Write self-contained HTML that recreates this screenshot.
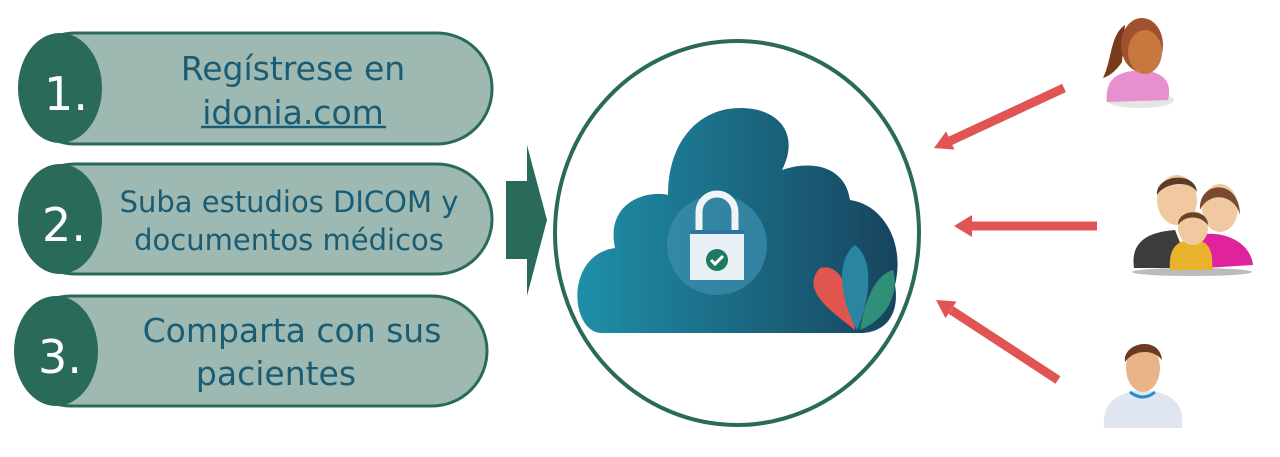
<!DOCTYPE html>
<html><head><meta charset="utf-8"><style>
html,body{margin:0;padding:0;background:#fff;width:1280px;height:457px;overflow:hidden}
svg text{font-family:"DejaVu Sans","Liberation Sans",sans-serif}
</style></head><body>
<svg width="1280" height="457" viewBox="0 0 1280 457" xmlns="http://www.w3.org/2000/svg">
<defs>
<linearGradient id="cg" x1="0" x2="1" y1="0" y2="0"><stop offset="0" stop-color="#1f8fa8"/><stop offset="1" stop-color="#17445e"/></linearGradient>
</defs>
<!-- pills -->
<g stroke="#2a6a5a" stroke-width="3">
<rect x="20" y="33" width="472" height="111" rx="55" fill="#9db9b2"/>
<rect x="20" y="164" width="472" height="110" rx="55" fill="#9db9b2"/>
<rect x="16" y="296" width="471" height="110" rx="55" fill="#9db9b2"/>
</g>
<ellipse cx="60" cy="88" rx="42" ry="55" fill="#2a6a5a"/>
<ellipse cx="60" cy="219" rx="42" ry="55" fill="#2a6a5a"/>
<ellipse cx="56" cy="351" rx="42" ry="55" fill="#2a6a5a"/>
<g fill="#fff" font-size="46" text-anchor="middle">
<text x="66" y="110" transform="scale(1,1)">1.</text><text x="64" y="241">2.</text><text x="60" y="373">3.</text>
</g>
<g fill="#1a5c74" text-anchor="middle">
<text x="293" y="80" font-size="33">Regístrese en</text>
<text x="293" y="124" font-size="33">idonia.com</text>
<line x1="201" y1="127" x2="386" y2="127" stroke="#1a5c74" stroke-width="2.5"/>
<text x="289" y="212" font-size="29">Suba estudios DICOM y</text>
<text x="289" y="250" font-size="29">documentos médicos</text>
<text x="292" y="342" font-size="33">Comparta con sus</text>
<text x="276" y="385" font-size="33">pacientes</text>
</g>
<!-- big arrow -->
<path d="M506,181 H527 V145 L547,220 L527,296 V259 H506Z" fill="#2a6a5a"/>
<!-- ellipse -->
<ellipse cx="737" cy="233" rx="182" ry="192" fill="#fff" stroke="#2a6a5a" stroke-width="4"/>
<!-- cloud -->
<path d="M600,333 C570,330 565,255 615,248 C605,200 650,190 668,195 C668,140 700,108 740,108 C780,108 800,135 782,170 C810,160 845,165 850,200 C885,205 905,245 895,285 C900,315 885,333 860,333Z" fill="url(#cg)"/>
<circle cx="717" cy="245" r="50" fill="#3d8eaf" opacity="0.7"/>
<path d="M699,230 V212 A18,18 0 0 1 735,212 V230" fill="none" stroke="#f0f4f7" stroke-width="7"/>
<rect x="690" y="230" width="54" height="50" fill="#e9f1f6"/>
<rect x="690" y="230" width="54" height="4" fill="#2f74a0"/>
<circle cx="717" cy="260" r="11" fill="#1f7a62"/>
<path d="M711,260 l4,4 l8,-8" fill="none" stroke="#fff" stroke-width="3"/>
<path d="M855,330 C830,310 800,290 820,268 C840,262 852,290 855,330Z" fill="#e0564f"/>
<path d="M857,330 C840,300 835,260 855,245 C875,260 870,300 857,330Z" fill="#2a86a0"/>
<path d="M860,330 C865,300 875,275 893,270 C900,295 885,320 860,330Z" fill="#2f8f78"/>
<!-- red arrows -->
<g stroke="#e05454" stroke-width="9">
<line x1="1064" y1="88" x2="950" y2="141"/>
<line x1="1097" y1="226" x2="972" y2="226"/>
<line x1="1058" y1="380" x2="951" y2="310"/>
</g>
<g fill="#e05454">
<path d="M934,148 L954.5,149.6 L946.1,131.4Z"/>
<path d="M954,226 L972,215 L972,237Z"/>
<path d="M936,300 L956.5,301.5 L945.5,318.3Z"/>
</g>
<!-- girl -->
<g>
<ellipse cx="1140" cy="100" rx="34" ry="8" fill="#ccc" opacity="0.5"/>
<path d="M1107,102 C1105,80 1115,72 1140,70 C1165,72 1172,82 1168,100 Z" fill="#e78fcf"/>
<path d="M1125,25 C1110,35 1112,60 1103,78 C1112,75 1118,68 1122,62 Z" fill="#7a3b1c"/>
<ellipse cx="1142" cy="45" rx="21" ry="27" fill="#a0522d"/>
<ellipse cx="1145" cy="52" rx="17" ry="22" fill="#c6783f"/>
</g>
<!-- family -->
<g>
<ellipse cx="1192" cy="272" rx="60" ry="4" fill="#bbb"/>
<path d="M1134,268 C1130,240 1150,232 1175,230 L1190,268Z" fill="#3c3c3c"/>
<ellipse cx="1177" cy="200" rx="20" ry="25" fill="#f0c9a0"/>
<path d="M1157,195 C1155,175 1195,170 1197,192 C1190,180 1165,182 1157,195Z" fill="#5a3b26"/>
<path d="M1205,268 L1200,235 C1220,230 1250,240 1253,265Z" fill="#e0239c"/>
<ellipse cx="1220" cy="208" rx="18" ry="24" fill="#f0c9a0"/>
<path d="M1200,210 C1198,180 1240,178 1240,215 C1235,195 1210,190 1200,210Z" fill="#7a4a30"/>
<path d="M1170,270 C1168,245 1180,240 1192,240 C1205,240 1214,245 1212,270Z" fill="#e8b22a"/>
<ellipse cx="1193" cy="228" rx="15" ry="17" fill="#f0c9a0"/>
<path d="M1178,225 C1178,208 1208,208 1208,225 C1200,215 1185,215 1178,225Z" fill="#6b4226"/>
</g>
<!-- patient -->
<g>
<path d="M1104,428 C1102,400 1120,392 1143,390 C1168,392 1185,400 1182,428Z" fill="#dfe6ef"/>
<path d="M1130,392 Q1143,402 1155,392" fill="none" stroke="#2a8acb" stroke-width="3"/>
<ellipse cx="1143" cy="368" rx="17" ry="24" fill="#e9b48a"/>
<path d="M1125,362 C1122,342 1160,335 1162,360 C1155,350 1135,348 1125,362Z" fill="#6b3a20"/>
</g>
</svg>
</body></html>
